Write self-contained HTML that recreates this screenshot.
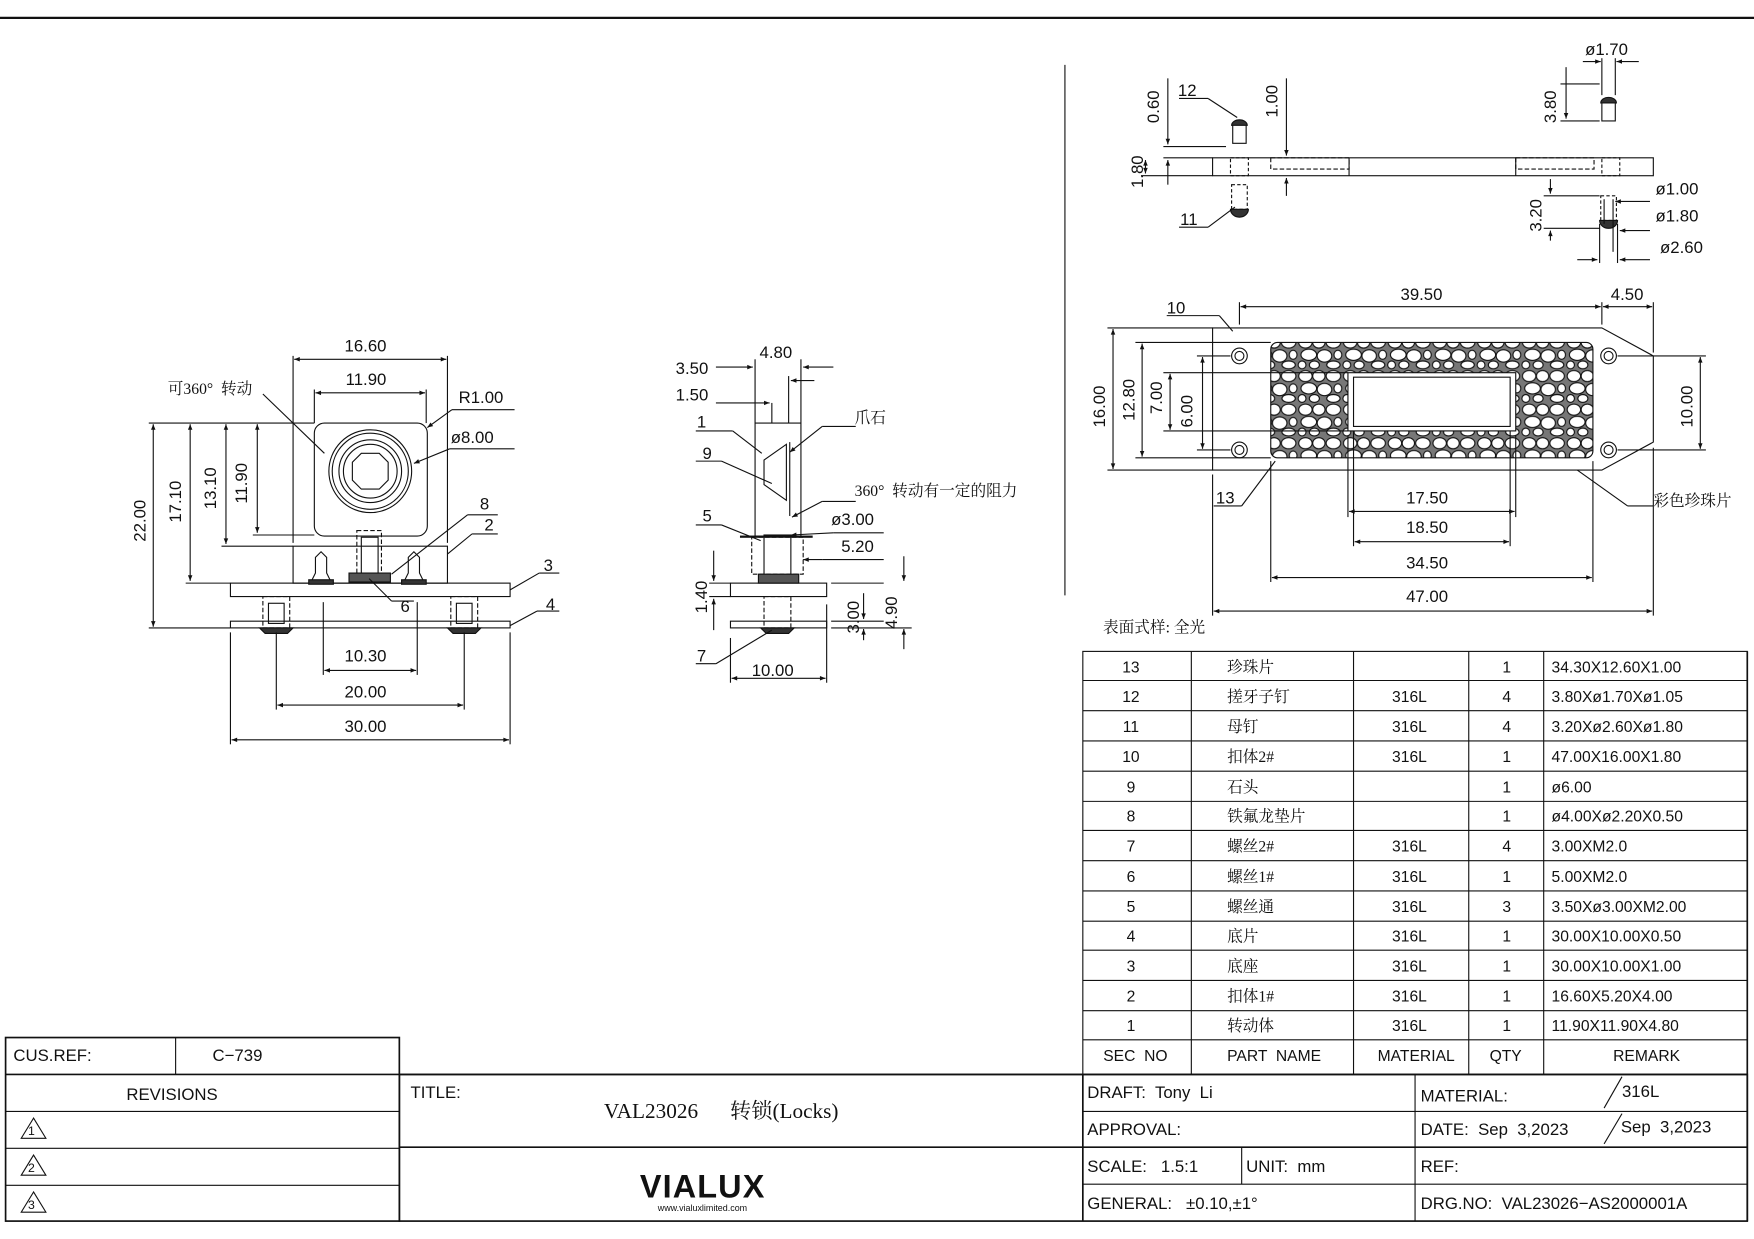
<!DOCTYPE html>
<html><head><meta charset="utf-8"><style>
html,body{margin:0;padding:0;background:#fff;}
svg{display:block;}
text{font-family:"Liberation Sans","Noto Sans CJK SC",sans-serif;fill:#111;white-space:pre;}
.s{font-family:"Liberation Serif","Noto Serif CJK SC","Noto Sans CJK SC",serif;}
</style></head><body>
<svg width="1754" height="1239" viewBox="0 0 1568 1107" preserveAspectRatio="none" xmlns="http://www.w3.org/2000/svg" xml:space="preserve">
<defs>
<marker id="a" viewBox="0 0 10 10" refX="10" refY="5" markerWidth="9" markerHeight="5" orient="auto-start-reverse"><path d="M0,1 L10,5 L0,9z" fill="#111"/></marker>
<pattern id="peb" width="40" height="30" patternUnits="userSpaceOnUse">
<rect width="40" height="30" fill="#777"/>
<ellipse cx="7" cy="6" rx="6" ry="5" fill="#fff" stroke="#111"/>
<ellipse cx="19" cy="6" rx="5.5" ry="5" fill="#fff" stroke="#111"/>
<ellipse cx="32" cy="6" rx="6.5" ry="5" fill="#fff" stroke="#111"/>
<ellipse cx="10" cy="17" rx="7" ry="5" fill="#fff" stroke="#111"/>
<ellipse cx="24" cy="18" rx="6.5" ry="5.5" fill="#fff" stroke="#111"/>
<ellipse cx="36" cy="17" rx="3.5" ry="4" fill="#fff" stroke="#111"/>
<ellipse cx="4" cy="26" rx="3.5" ry="3.5" fill="#fff" stroke="#111"/>
<ellipse cx="15" cy="26" rx="4.5" ry="3.5" fill="#fff" stroke="#111"/>
<ellipse cx="32" cy="26" rx="6" ry="3.5" fill="#fff" stroke="#111"/>
</pattern>
</defs>
<g stroke="#111" fill="none" stroke-width="1">
<line x1="0" y1="16" x2="1568" y2="16" stroke-width="2"/>
<line x1="952" y1="58" x2="952" y2="532"/>

<!-- FRONT VIEW -->
<rect x="281" y="378" width="101" height="101" rx="9"/>
<circle cx="331" cy="421" r="37"/><circle cx="331" cy="421" r="34"/><circle cx="331" cy="421" r="28"/><circle cx="331" cy="421" r="24"/>
<polygon points="323,405 339,405 347,413 347,429 339,437 323,437 315,429 315,413"/>
<rect x="262" y="488" width="138" height="33"/>
<rect x="206" y="521" width="250" height="12"/>
<rect x="206" y="555" width="250" height="6"/>
<rect x="319" y="474" width="22" height="42" stroke-dasharray="4,2"/>
<rect x="323" y="480" width="15" height="32"/>
<rect x="312" y="512" width="37" height="8" fill="#555"/>
<path d="M278,520 l4,-8 v-14 l5,-5 l5,5 v14 l4,8z" />
<path d="M361,520 l4,-8 v-14 l5,-5 l5,5 v14 l4,8z" />
<rect x="276" y="518" width="22" height="4" fill="#333"/><rect x="359" y="518" width="22" height="4" fill="#333"/>
<rect x="235" y="533" width="24" height="28" stroke-dasharray="4,2"/><rect x="240" y="539" width="14" height="18"/>
<rect x="403" y="533" width="24" height="28" stroke-dasharray="4,2"/><rect x="408" y="539" width="14" height="18"/>
<path d="M232,561 h30 l-5,5 h-20z" fill="#333"/><path d="M400,561 h30 l-5,5 h-20z" fill="#333"/>
<line x1="262" y1="318" x2="262" y2="485"/><line x1="400" y1="318" x2="400" y2="485"/>
<line x1="263" y1="321" x2="399" y2="321" marker-start="url(#a)" marker-end="url(#a)"/>
<line x1="281" y1="348" x2="281" y2="378"/><line x1="381" y1="348" x2="381" y2="378"/>
<line x1="282" y1="351" x2="380" y2="351" marker-start="url(#a)" marker-end="url(#a)"/>
<line x1="133" y1="378" x2="281" y2="378"/>
<line x1="137" y1="379" x2="137" y2="560" marker-start="url(#a)" marker-end="url(#a)"/>
<line x1="133" y1="561" x2="206" y2="561"/>
<line x1="170" y1="379" x2="170" y2="519" marker-start="url(#a)" marker-end="url(#a)"/>
<line x1="166" y1="521" x2="206" y2="521"/>
<line x1="202" y1="379" x2="202" y2="486" marker-start="url(#a)" marker-end="url(#a)"/>
<line x1="198" y1="488" x2="262" y2="488"/>
<line x1="230" y1="379" x2="230" y2="476" marker-start="url(#a)" marker-end="url(#a)"/>
<line x1="226" y1="478" x2="281" y2="478"/>
<line x1="404" y1="366" x2="460" y2="366"/><line x1="404" y1="366" x2="382" y2="382" marker-end="url(#a)"/>
<line x1="402" y1="401" x2="460" y2="401"/><line x1="402" y1="401" x2="370" y2="414" marker-end="url(#a)"/>
<line x1="235" y1="352" x2="290" y2="405"/>
<line x1="289" y1="538" x2="289" y2="603"/><line x1="373" y1="538" x2="373" y2="603"/>
<line x1="290" y1="599" x2="372" y2="599" marker-start="url(#a)" marker-end="url(#a)"/>
<line x1="247" y1="565" x2="247" y2="634"/><line x1="415" y1="565" x2="415" y2="634"/>
<line x1="248" y1="630" x2="414" y2="630" marker-start="url(#a)" marker-end="url(#a)"/>
<line x1="206" y1="565" x2="206" y2="665"/><line x1="456" y1="565" x2="456" y2="665"/>
<line x1="207" y1="661" x2="455" y2="661" marker-start="url(#a)" marker-end="url(#a)"/>
<line x1="350" y1="513" x2="418" y2="460"/><line x1="418" y1="460" x2="445" y2="460"/>
<line x1="400" y1="495" x2="422" y2="477"/><line x1="422" y1="477" x2="445" y2="477"/>
<line x1="456" y1="527" x2="482" y2="512"/><line x1="482" y1="512" x2="500" y2="512"/>
<line x1="456" y1="559" x2="480" y2="546"/><line x1="480" y1="546" x2="500" y2="546"/>
<line x1="330" y1="517" x2="350" y2="537"/><line x1="350" y1="537" x2="370" y2="537"/>

<!-- SIDE VIEW -->
<rect x="675" y="378" width="41" height="101"/>
<path d="M703,397 l-20,14 v22 l20,14z"/>
<line x1="706" y1="395" x2="706" y2="461"/>
<rect x="662" y="479" width="64" height="1"/>
<rect x="672" y="480" width="46" height="33" stroke-dasharray="4,2"/>
<rect x="683" y="478" width="24" height="40"/>
<rect x="653" y="521" width="86" height="12"/>
<rect x="653" y="555" width="86" height="6"/>
<rect x="678" y="513" width="36" height="8" fill="#555"/>
<rect x="683" y="533" width="24" height="28" stroke-dasharray="4,2"/>
<path d="M680,561 h30 l-5,5 h-20z" fill="#333"/>
<line x1="675" y1="321" x2="675" y2="378"/><line x1="716" y1="321" x2="716" y2="378"/>
<line x1="705" y1="336" x2="705" y2="378"/><line x1="690" y1="360" x2="690" y2="378"/>
<line x1="640" y1="328" x2="673" y2="328" marker-end="url(#a)"/><line x1="745" y1="328" x2="718" y2="328" marker-end="url(#a)"/>
<line x1="640" y1="360" x2="688" y2="360" marker-end="url(#a)"/>
<line x1="728" y1="340" x2="707" y2="340" marker-end="url(#a)"/>
<line x1="653" y1="570" x2="653" y2="610"/><line x1="739" y1="540" x2="739" y2="610"/>
<line x1="654" y1="606" x2="738" y2="606" marker-start="url(#a)" marker-end="url(#a)"/>
<line x1="638" y1="492" x2="638" y2="519" marker-end="url(#a)"/><line x1="638" y1="563" x2="638" y2="535" marker-end="url(#a)"/>
<line x1="634" y1="521" x2="653" y2="521"/><line x1="634" y1="533" x2="653" y2="533"/>
<line x1="743" y1="521" x2="790" y2="521"/><line x1="743" y1="555" x2="790" y2="555"/><line x1="743" y1="561" x2="815" y2="561"/>
<line x1="772" y1="530" x2="772" y2="553" marker-end="url(#a)"/><line x1="772" y1="572" x2="772" y2="562" marker-end="url(#a)"/>
<line x1="808" y1="497" x2="808" y2="519" marker-end="url(#a)"/><line x1="808" y1="580" x2="808" y2="562" marker-end="url(#a)"/>
<line x1="745" y1="476" x2="790" y2="476"/><line x1="745" y1="476" x2="707" y2="478" marker-end="url(#a)"/>
<line x1="735" y1="500" x2="790" y2="500"/><line x1="735" y1="500" x2="718" y2="500" marker-end="url(#a)"/>
<line x1="765" y1="381" x2="735" y2="381"/><line x1="735" y1="381" x2="706" y2="404" marker-end="url(#a)"/>
<line x1="765" y1="448" x2="735" y2="448"/><line x1="735" y1="448" x2="708" y2="462" marker-end="url(#a)"/>
<line x1="622" y1="385" x2="655" y2="385"/><line x1="655" y1="385" x2="681" y2="405"/>
<line x1="622" y1="412" x2="645" y2="412"/><line x1="645" y1="412" x2="690" y2="432"/>
<line x1="622" y1="469" x2="645" y2="469"/><line x1="645" y1="469" x2="680" y2="483"/>
<line x1="622" y1="593" x2="640" y2="593"/><line x1="640" y1="593" x2="690" y2="563"/>

<!-- TOP RIGHT BAR -->
<rect x="1084" y="141" width="394" height="16"/>
<rect x="1136" y="141" width="70" height="10" stroke-dasharray="4,2"/>
<rect x="1355" y="141" width="70" height="10" stroke-dasharray="4,2"/>
<line x1="1206" y1="141" x2="1206" y2="157"/><line x1="1355" y1="141" x2="1355" y2="157"/>
<rect x="1100" y="141" width="16" height="16" stroke-dasharray="3,2"/>
<rect x="1432" y="141" width="16" height="16" stroke-dasharray="3,2"/>
<path d="M1102,128 v-18 h12 v18z"/><path d="M1101,112 a7,5 0 0 1 14,0z" fill="#333"/>
<path d="M1432,108 v-18 h12 v18z"/><path d="M1431,92 a7,5 0 0 1 14,0z" fill="#333"/>
<rect x="1101" y="165" width="14" height="22" stroke-dasharray="3,2"/><path d="M1100,187 a8,7 0 0 0 16,0z" fill="#333"/>
<rect x="1431" y="175" width="14" height="22" stroke-dasharray="3,2"/><path d="M1430,197 a8,7 0 0 0 16,0z" fill="#333"/>
<line x1="1040" y1="131" x2="1096" y2="131"/><line x1="1040" y1="141" x2="1084" y2="141"/><line x1="1020" y1="157" x2="1084" y2="157"/>
<line x1="1044" y1="70" x2="1044" y2="129" marker-end="url(#a)"/><line x1="1044" y1="165" x2="1044" y2="143" marker-end="url(#a)"/>
<line x1="1024" y1="143" x2="1024" y2="155" marker-start="url(#a)" marker-end="url(#a)"/>
<line x1="1150" y1="70" x2="1150" y2="139" marker-end="url(#a)"/><line x1="1150" y1="175" x2="1150" y2="159" marker-end="url(#a)"/>
<line x1="1054" y1="88" x2="1080" y2="88"/><line x1="1080" y1="88" x2="1106" y2="105"/>
<line x1="1054" y1="203" x2="1080" y2="203"/><line x1="1080" y1="203" x2="1104" y2="185"/>
<line x1="1395" y1="75" x2="1430" y2="75"/><line x1="1395" y1="108" x2="1430" y2="108"/>
<line x1="1400" y1="60" x2="1400" y2="106" marker-end="url(#a)"/>
<line x1="1432" y1="52" x2="1432" y2="85"/><line x1="1444" y1="52" x2="1444" y2="85"/>
<line x1="1415" y1="55" x2="1431" y2="55" marker-end="url(#a)"/><line x1="1465" y1="55" x2="1445" y2="55" marker-end="url(#a)"/>
<line x1="1380" y1="175" x2="1430" y2="175"/><line x1="1380" y1="204" x2="1430" y2="204"/>
<line x1="1386" y1="160" x2="1386" y2="173" marker-end="url(#a)"/><line x1="1386" y1="215" x2="1386" y2="206" marker-end="url(#a)"/>
<line x1="1434" y1="178" x2="1434" y2="200"/><line x1="1442" y1="178" x2="1442" y2="225"/>
<line x1="1430" y1="200" x2="1430" y2="235"/><line x1="1446" y1="200" x2="1446" y2="235"/>
<line x1="1475" y1="180" x2="1444" y2="180" marker-end="url(#a)"/>
<line x1="1475" y1="206" x2="1448" y2="206" marker-end="url(#a)"/>
<line x1="1410" y1="232" x2="1428" y2="232" marker-end="url(#a)"/><line x1="1475" y1="232" x2="1448" y2="232" marker-end="url(#a)"/>

<!-- PLATE VIEW -->
<path d="M1084,293 H1432 L1478,318 V395 L1432,420 H1084z"/>
<rect x="1136" y="306" width="288" height="103" rx="6" fill="url(#peb)"/>
<rect x="1205" y="333" width="150" height="52" fill="#fff"/>
<rect x="1210" y="337" width="140" height="44"/>
<circle cx="1108" cy="318" r="7"/><circle cx="1108" cy="318" r="4"/>
<circle cx="1108" cy="402" r="7"/><circle cx="1108" cy="402" r="4"/>
<circle cx="1438" cy="318" r="7"/><circle cx="1438" cy="318" r="4"/>
<circle cx="1438" cy="402" r="7"/><circle cx="1438" cy="402" r="4"/>
<line x1="1108" y1="270" x2="1108" y2="290"/><line x1="1432" y1="270" x2="1432" y2="290"/><line x1="1478" y1="270" x2="1478" y2="315"/>
<line x1="1109" y1="274" x2="1431" y2="274" marker-start="url(#a)" marker-end="url(#a)"/>
<line x1="1433" y1="274" x2="1477" y2="274" marker-start="url(#a)" marker-end="url(#a)"/>
<line x1="990" y1="293" x2="1084" y2="293"/><line x1="990" y1="420" x2="1084" y2="420"/>
<line x1="1015" y1="306" x2="1136" y2="306"/><line x1="1015" y1="409" x2="1136" y2="409"/>
<line x1="1040" y1="333" x2="1205" y2="333"/><line x1="1040" y1="385" x2="1205" y2="385"/>
<line x1="1070" y1="318" x2="1100" y2="318"/><line x1="1070" y1="402" x2="1100" y2="402"/>
<line x1="995" y1="294" x2="995" y2="419" marker-start="url(#a)" marker-end="url(#a)"/>
<line x1="1021" y1="307" x2="1021" y2="408" marker-start="url(#a)" marker-end="url(#a)"/>
<line x1="1046" y1="334" x2="1046" y2="384" marker-start="url(#a)" marker-end="url(#a)"/>
<line x1="1075" y1="319" x2="1075" y2="401" marker-start="url(#a)" marker-end="url(#a)"/>
<line x1="1446" y1="318" x2="1525" y2="318"/><line x1="1446" y1="402" x2="1525" y2="402"/>
<line x1="1520" y1="319" x2="1520" y2="401" marker-start="url(#a)" marker-end="url(#a)"/>
<line x1="1205" y1="389" x2="1205" y2="462"/><line x1="1355" y1="389" x2="1355" y2="462"/>
<line x1="1206" y1="457" x2="1354" y2="457" marker-start="url(#a)" marker-end="url(#a)"/>
<line x1="1210" y1="385" x2="1210" y2="488"/><line x1="1350" y1="385" x2="1350" y2="488"/>
<line x1="1211" y1="484" x2="1349" y2="484" marker-start="url(#a)" marker-end="url(#a)"/>
<line x1="1136" y1="412" x2="1136" y2="520"/><line x1="1424" y1="412" x2="1424" y2="520"/>
<line x1="1137" y1="516" x2="1423" y2="516" marker-start="url(#a)" marker-end="url(#a)"/>
<line x1="1084" y1="424" x2="1084" y2="550"/><line x1="1478" y1="400" x2="1478" y2="550"/>
<line x1="1085" y1="546" x2="1477" y2="546" marker-start="url(#a)" marker-end="url(#a)"/>
<line x1="1043" y1="282" x2="1090" y2="282"/><line x1="1090" y1="282" x2="1102" y2="296"/>
<line x1="1085" y1="452" x2="1110" y2="452"/><line x1="1110" y1="452" x2="1140" y2="412"/>
<line x1="1478" y1="452" x2="1455" y2="452"/><line x1="1455" y1="452" x2="1410" y2="420"/>

<!-- BOM TABLE -->
<rect x="968" y="582" width="594" height="378"/>
<line x1="968" y1="608" x2="1562" y2="608"/><line x1="968" y1="635" x2="1562" y2="635"/><line x1="968" y1="662" x2="1562" y2="662"/>
<line x1="968" y1="689" x2="1562" y2="689"/><line x1="968" y1="716" x2="1562" y2="716"/><line x1="968" y1="742" x2="1562" y2="742"/>
<line x1="968" y1="769" x2="1562" y2="769"/><line x1="968" y1="796" x2="1562" y2="796"/><line x1="968" y1="823" x2="1562" y2="823"/>
<line x1="968" y1="849" x2="1562" y2="849"/><line x1="968" y1="876" x2="1562" y2="876"/><line x1="968" y1="903" x2="1562" y2="903"/>
<line x1="968" y1="929" x2="1562" y2="929"/>
<line x1="1065" y1="582" x2="1065" y2="960"/><line x1="1210" y1="582" x2="1210" y2="960"/>
<line x1="1313" y1="582" x2="1313" y2="960"/><line x1="1380" y1="582" x2="1380" y2="960"/>

<!-- TITLE BLOCK -->
<rect x="5" y="927" width="352" height="164" stroke-width="1.5"/>
<line x1="5" y1="960" x2="1562" y2="960" stroke-width="1.5"/>
<line x1="157" y1="927" x2="157" y2="960"/>
<line x1="5" y1="993" x2="357" y2="993"/><line x1="5" y1="1026" x2="357" y2="1026"/><line x1="5" y1="1059" x2="357" y2="1059"/>
<rect x="357" y="960" width="1205" height="131" stroke-width="1.5"/>
<line x1="357" y1="1025" x2="1562" y2="1025" stroke-width="1.5"/>
<line x1="968" y1="960" x2="968" y2="1091" stroke-width="1.5"/>
<line x1="968" y1="993" x2="1562" y2="993"/><line x1="968" y1="1058" x2="1562" y2="1058"/>
<line x1="1265" y1="960" x2="1265" y2="1091"/><line x1="1110" y1="1025" x2="1110" y2="1058"/>
<line x1="1562" y1="582" x2="1562" y2="1091" stroke-width="1.5"/>
<line x1="1434" y1="990" x2="1450" y2="962"/><line x1="1434" y1="1022" x2="1450" y2="995"/>
<path d="M30,999 l-11,18 h22z M30,1032 l-11,18 h22z M30,1065 l-11,18 h22z"/>
</g>

<!-- TEXT -->
<g font-size="15">
<text x="308" y="314">16.60</text><text x="309" y="344">11.90</text>
<text x="410" y="360">R1.00</text><text x="403" y="396">ø8.00</text>
<text x="150" y="352" class="s" font-size="14">可360°  转动</text>
<text x="429" y="455">8</text><text x="433" y="474">2</text><text x="486" y="510">3</text><text x="488" y="545">4</text><text x="358" y="547">6</text>
<text x="308" y="591">10.30</text><text x="308" y="623">20.00</text><text x="308" y="654">30.00</text>
<text transform="translate(130,484) rotate(-90)">22.00</text>
<text transform="translate(162,467) rotate(-90)">17.10</text>
<text transform="translate(193,455) rotate(-90)">13.10</text>
<text transform="translate(221,450) rotate(-90)">11.90</text>

<text x="679" y="320">4.80</text><text x="604" y="334">3.50</text><text x="604" y="358">1.50</text>
<text x="764" y="378" class="s" font-size="14">爪石</text>
<text x="764" y="443" class="s" font-size="14">360°  转动有一定的阻力</text>
<text x="743" y="469">ø3.00</text><text x="752" y="493">5.20</text>
<text x="623" y="382">1</text><text x="628" y="410">9</text><text x="628" y="466">5</text><text x="623" y="591">7</text>
<text x="672" y="604">10.00</text>
<text transform="translate(632,548) rotate(-90)">1.40</text>
<text transform="translate(768,566) rotate(-90)">3.00</text>
<text transform="translate(802,562) rotate(-90)">4.90</text>

<text transform="translate(1036,110) rotate(-90)">0.60</text>
<text transform="translate(1022,168) rotate(-90)">1.80</text>
<text transform="translate(1142,105) rotate(-90)">1.00</text>
<text x="1053" y="86">12</text><text x="1055" y="201">11</text>
<text x="1417" y="49">ø1.70</text>
<text transform="translate(1391,110) rotate(-90)">3.80</text>
<text transform="translate(1378,207) rotate(-90)">3.20</text>
<text x="1480" y="174">ø1.00</text><text x="1480" y="198">ø1.80</text><text x="1484" y="226">ø2.60</text>

<text x="1252" y="268">39.50</text><text x="1440" y="268">4.50</text><text x="1043" y="280">10</text>
<text transform="translate(988,382) rotate(-90)">16.00</text>
<text transform="translate(1014,376) rotate(-90)">12.80</text>
<text transform="translate(1039,370) rotate(-90)">7.00</text>
<text transform="translate(1066,382) rotate(-90)">6.00</text>
<text transform="translate(1513,382) rotate(-90)">10.00</text>
<text x="1087" y="450">13</text>
<text x="1478" y="452" class="s" font-size="14">彩色珍珠片</text>
<text x="1257" y="450">17.50</text><text x="1257" y="476">18.50</text><text x="1257" y="508">34.50</text><text x="1257" y="538">47.00</text>
<text x="986" y="565" class="s" font-size="14">表面式样: 全光</text>
</g>

<g font-size="14">
<g text-anchor="middle">
<text x="1011" y="601">13</text><text x="1011" y="627">12</text><text x="1011" y="654">11</text><text x="1011" y="681">10</text>
<text x="1011" y="708">9</text><text x="1011" y="734">8</text><text x="1011" y="761">7</text><text x="1011" y="788">6</text>
<text x="1011" y="815">5</text><text x="1011" y="841">4</text><text x="1011" y="868">3</text><text x="1011" y="895">2</text><text x="1011" y="921">1</text>
<text x="1260" y="627">316L</text><text x="1260" y="654">316L</text><text x="1260" y="681">316L</text>
<text x="1260" y="761">316L</text><text x="1260" y="788">316L</text><text x="1260" y="815">316L</text><text x="1260" y="841">316L</text>
<text x="1260" y="868">316L</text><text x="1260" y="895">316L</text><text x="1260" y="921">316L</text>
<text x="1347" y="601">1</text><text x="1347" y="627">4</text><text x="1347" y="654">4</text><text x="1347" y="681">1</text><text x="1347" y="708">1</text>
<text x="1347" y="734">1</text><text x="1347" y="761">4</text><text x="1347" y="788">1</text><text x="1347" y="815">3</text><text x="1347" y="841">1</text>
<text x="1347" y="868">1</text><text x="1347" y="895">1</text><text x="1347" y="921">1</text>
<text x="1015" y="948" fill="#444">SEC  NO</text><text x="1139" y="948" fill="#444">PART  NAME</text><text x="1266" y="948" fill="#444">MATERIAL</text>
<text x="1346" y="948" fill="#444">QTY</text><text x="1472" y="948" fill="#444">REMARK</text>
</g>
<text x="1097" y="601" class="s">珍珠片</text><text x="1097" y="627" class="s">搓牙子钉</text><text x="1097" y="654" class="s">母钉</text><text x="1097" y="681" class="s">扣体2#</text>
<text x="1097" y="708" class="s">石头</text><text x="1097" y="734" class="s">铁氟龙垫片</text><text x="1097" y="761" class="s">螺丝2#</text><text x="1097" y="788" class="s">螺丝1#</text>
<text x="1097" y="815" class="s">螺丝通</text><text x="1097" y="841" class="s">底片</text><text x="1097" y="868" class="s">底座</text><text x="1097" y="895" class="s">扣体1#</text><text x="1097" y="921" class="s">转动体</text>
<text x="1387" y="601">34.30X12.60X1.00</text><text x="1387" y="627">3.80Xø1.70Xø1.05</text><text x="1387" y="654">3.20Xø2.60Xø1.80</text>
<text x="1387" y="681">47.00X16.00X1.80</text><text x="1387" y="708">ø6.00</text><text x="1387" y="734">ø4.00Xø2.20X0.50</text>
<text x="1387" y="761">3.00XM2.0</text><text x="1387" y="788">5.00XM2.0</text><text x="1387" y="815">3.50Xø3.00XM2.00</text>
<text x="1387" y="841">30.00X10.00X0.50</text><text x="1387" y="868">30.00X10.00X1.00</text><text x="1387" y="895">16.60X5.20X4.00</text><text x="1387" y="921">11.90X11.90X4.80</text>
</g>

<g font-size="15">
<text x="12" y="948">CUS.REF:</text><text x="190" y="948">C−739</text>
<text x="113" y="983">REVISIONS</text>
<text x="25" y="1014" font-size="11">1</text><text x="25" y="1047" font-size="11">2</text><text x="25" y="1080" font-size="11">3</text>
<text x="367" y="981">TITLE:</text>
<text x="540" y="999" class="s" font-size="19">VAL23026      转锁(Locks)</text>
<text x="572" y="1070" font-size="29" font-weight="bold" letter-spacing="1">VIALUX</text>
<text x="588" y="1082" font-size="8">www.vialuxlimited.com</text>
<text x="972" y="981">DRAFT:  Tony  Li</text>
<text x="972" y="1014">APPROVAL:</text>
<text x="972" y="1047">SCALE:   1.5:1</text><text x="1114" y="1047">UNIT:  mm</text>
<text x="972" y="1080">GENERAL:   ±0.10,±1°</text>
<text x="1270" y="984">MATERIAL:</text><text x="1450" y="980">316L</text>
<text x="1270" y="1014">DATE:  Sep  3,2023</text><text x="1449" y="1012">Sep  3,2023</text>
<text x="1270" y="1047">REF:</text>
<text x="1270" y="1080">DRG.NO:  VAL23026−AS2000001A</text>
</g>
</svg>
</body></html>
